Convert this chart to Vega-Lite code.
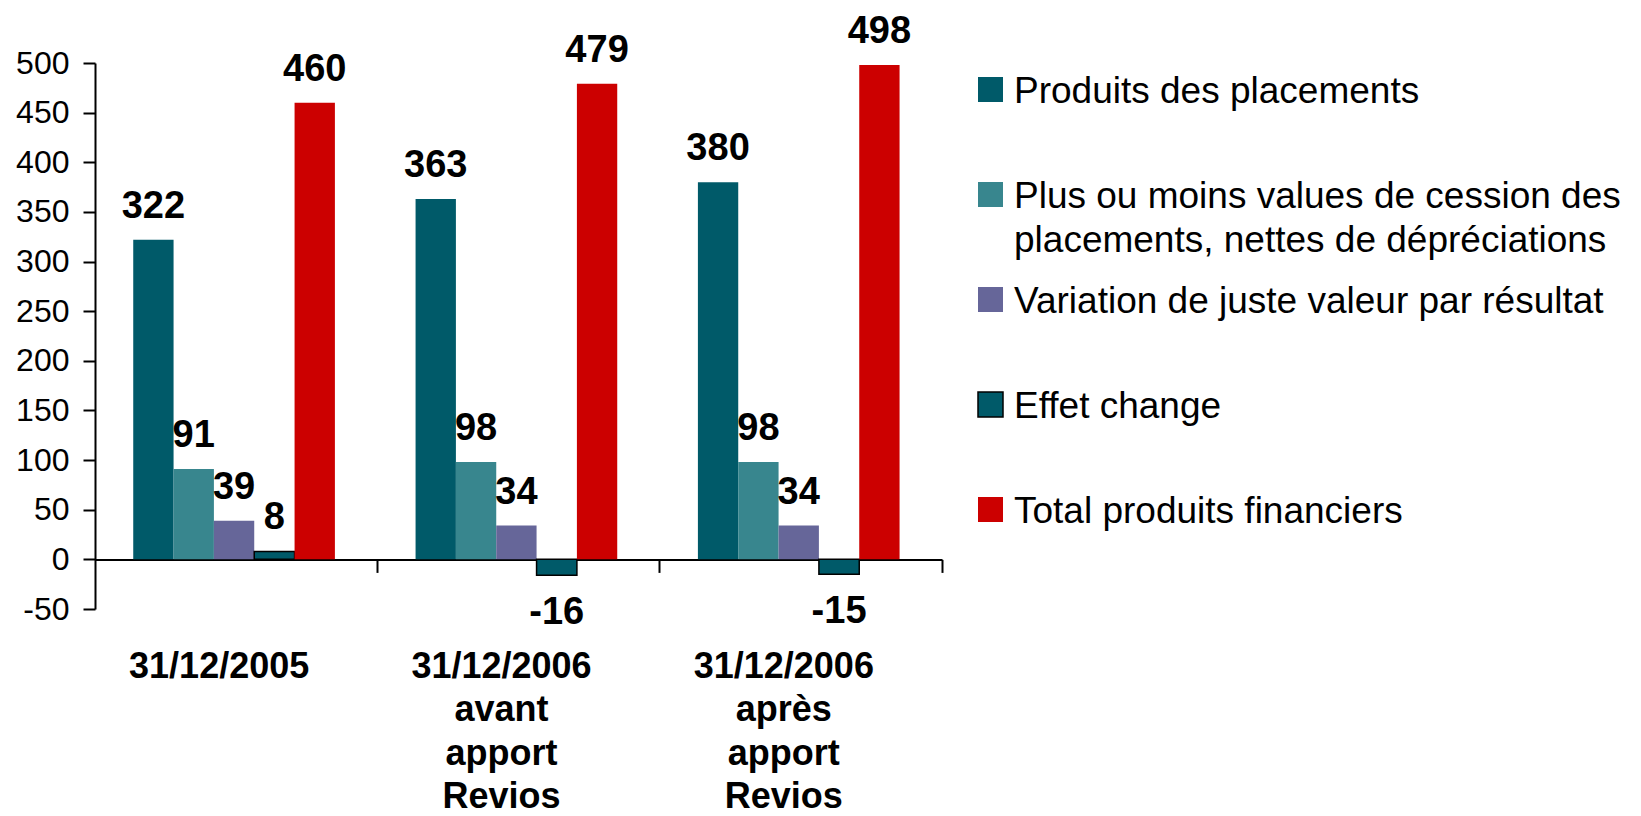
{
  "$schema": "https://vega.github.io/schema/vega-lite/v6.json",
  "width": 847,
  "height": 546,
  "autosize": {"type": "none"},
  "padding": {"left": 95, "top": 63, "right": 699, "bottom": 207},
  "background": "white",
  "config": {
    "view": {"stroke": null},
    "font": "Liberation Sans",
    "style": {"guide-label": {"dy": 13, "lineHeight": 44}},
    "axisY": {"title": null, "grid": false, "domainColor": "black", "domainWidth": 2, "tickColor": "black", "tickWidth": 2, "tickSize": 12, "labelFontSize": 32, "labelColor": "black", "labelPadding": 14, "labelOffset": -13, "labelFont": "Liberation Sans", "values": [-50, 0, 50, 100, 150, 200, 250, 300, 350, 400, 450, 500], "labelExpr": "'' + datum.value"}
  },
  "data": {
    "values": [
      {"cat": "31/12/2005", "series": "Produits des placements", "value": 322},
      {"cat": "31/12/2005", "series": "Plus ou moins values de cession des placements, nettes de dépréciations", "value": 91},
      {"cat": "31/12/2005", "series": "Variation de juste valeur par résultat", "value": 39},
      {"cat": "31/12/2005", "series": "Effet change", "value": 8},
      {"cat": "31/12/2005", "series": "Total produits financiers", "value": 460},
      {"cat": "31/12/2006 avant apport Revios", "series": "Produits des placements", "value": 363},
      {"cat": "31/12/2006 avant apport Revios", "series": "Plus ou moins values de cession des placements, nettes de dépréciations", "value": 98},
      {"cat": "31/12/2006 avant apport Revios", "series": "Variation de juste valeur par résultat", "value": 34},
      {"cat": "31/12/2006 avant apport Revios", "series": "Effet change", "value": -16},
      {"cat": "31/12/2006 avant apport Revios", "series": "Total produits financiers", "value": 479},
      {"cat": "31/12/2006 après apport Revios", "series": "Produits des placements", "value": 380},
      {"cat": "31/12/2006 après apport Revios", "series": "Plus ou moins values de cession des placements, nettes de dépréciations", "value": 98},
      {"cat": "31/12/2006 après apport Revios", "series": "Variation de juste valeur par résultat", "value": 34},
      {"cat": "31/12/2006 après apport Revios", "series": "Effet change", "value": -15},
      {"cat": "31/12/2006 après apport Revios", "series": "Total produits financiers", "value": 498}
    ]
  },
  "resolve": {"axis": {"x": "independent"}},
  "layer": [
    {
      "mark": {"type": "bar", "strokeWidth": 1.5},
      "encoding": {
        "x": {
          "field": "cat", "type": "nominal", "sort": null,
          "scale": {"domain": ["31/12/2005", "31/12/2006 avant apport Revios", "31/12/2006 après apport Revios"], "paddingInner": 0, "paddingOuter": 0},
          "axis": {"orient": "bottom", "offset": -49.6, "bandPosition": 1, "labels": false, "domainColor": "black", "domainWidth": 2, "tickColor": "black", "tickWidth": 2, "tickSize": 13, "title": null, "grid": false}
        },
        "xOffset": {
          "field": "series", "type": "nominal", "sort": null,
          "scale": {"domain": ["Produits des placements", "Plus ou moins values de cession des placements, nettes de dépréciations", "Variation de juste valeur par résultat", "Effet change", "Total produits financiers"], "paddingInner": 0, "paddingOuter": 1.1, "align": 0.474}
        },
        "y": {
          "field": "value", "type": "quantitative",
          "scale": {"domain": [-50, 500], "nice": false, "zero": false}
        },
        "color": {
          "field": "series", "type": "nominal",
          "scale": {"domain": ["Produits des placements", "Plus ou moins values de cession des placements, nettes de dépréciations", "Variation de juste valeur par résultat", "Effet change", "Total produits financiers"], "range": ["#005A69", "#38868E", "#666699", "#005A69", "#CC0000"]},
          "legend": {
            "orient": "none", "legendX": 877, "legendY": 8, "title": null,
            "symbolType": "square", "symbolSize": 625, "symbolStrokeWidth": 1.5,
            "labelFontSize": 37, "labelFont": "Liberation Sans", "labelColor": "black",
            "labelLimit": 1000, "labelOffset": 5, "labelBaseline": "alphabetic",
            "rowPadding": 22, "gridAlign": "all", "padding": 0,
            "labelExpr": "indexof(datum.label, 'Plus') == 0 ? ['Plus ou moins values de cession des', 'placements, nettes de dépréciations'] : datum.label"
          }
        },
        "stroke": {
          "field": "series", "type": "nominal",
          "scale": {"domain": ["Produits des placements", "Plus ou moins values de cession des placements, nettes de dépréciations", "Variation de juste valeur par résultat", "Effet change", "Total produits financiers"], "range": ["transparent", "transparent", "transparent", "black", "transparent"]}
        }
      }
    },
    {
      "transform": [{"filter": "datum.value >= 0"}],
      "mark": {"type": "text", "baseline": "alphabetic", "dy": -22, "fontSize": 38, "fontWeight": "bold", "font": "Liberation Sans", "color": "black"},
      "encoding": {
        "x": {
          "field": "cat", "type": "nominal", "sort": null,
          "scale": {"domain": ["31/12/2005", "31/12/2006 avant apport Revios", "31/12/2006 après apport Revios"], "paddingInner": 0, "paddingOuter": 0},
          "axis": {"orient": "bottom", "offset": 0, "domain": false, "ticks": false, "tickSize": 0, "labelPadding": 55, "labelBaseline": "alphabetic", "labelOffset": -17, "labelFontSize": 36, "labelFontWeight": "bold", "labelFont": "Liberation Sans", "labelLineHeight": 43.5, "labelExpr": "split(datum.label, ' ')", "labelColor": "black", "title": null, "labelAngle": 0, "labelLimit": 1000, "grid": false}
        },
        "xOffset": {"field": "series", "type": "nominal", "sort": null},
        "y": {"field": "value", "type": "quantitative"},
        "text": {"field": "value", "type": "nominal"}
      }
    },
    {
      "transform": [{"filter": "datum.value < 0"}],
      "mark": {"type": "text", "baseline": "alphabetic", "dy": 48.5, "fontSize": 38, "fontWeight": "bold", "font": "Liberation Sans", "color": "black"},
      "encoding": {
        "x": {"field": "cat", "type": "nominal", "sort": null, "axis": null},
        "xOffset": {"field": "series", "type": "nominal", "sort": null},
        "y": {"field": "value", "type": "quantitative"},
        "text": {"field": "value", "type": "nominal"}
      }
    }
  ]
}
